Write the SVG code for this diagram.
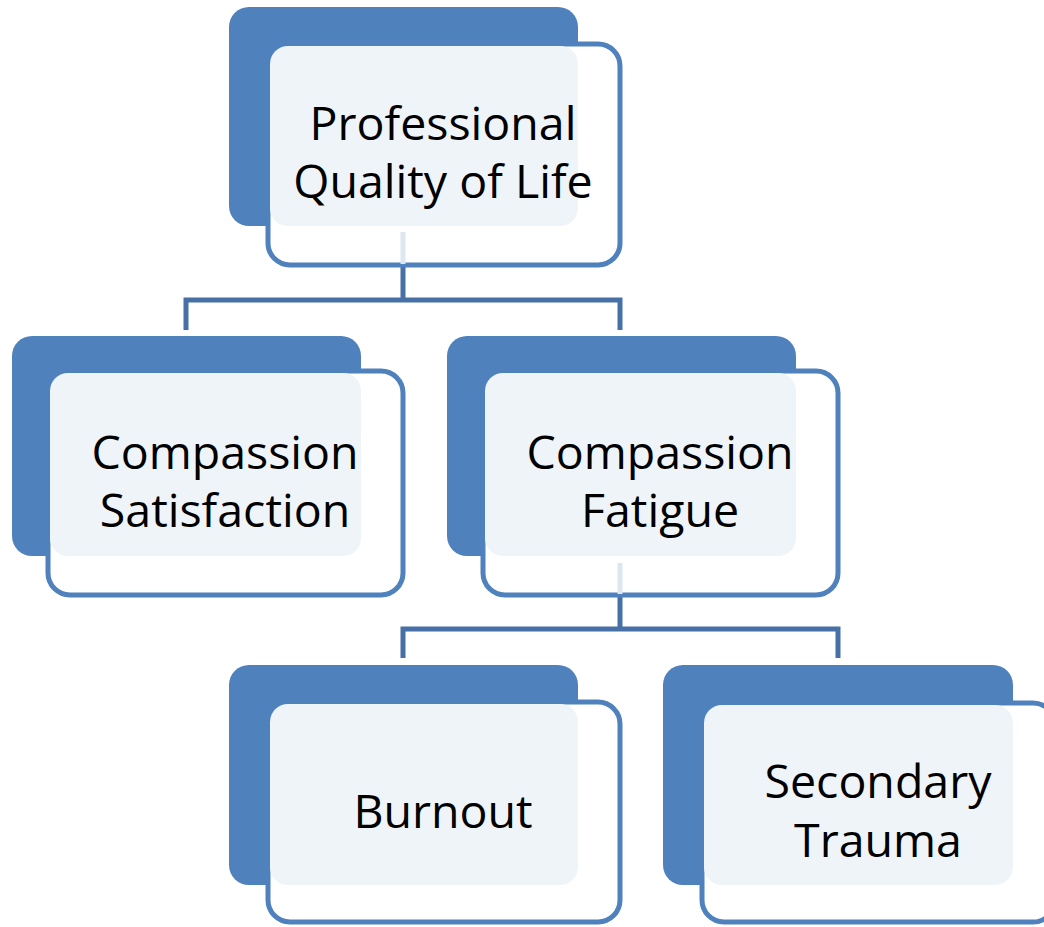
<svg xmlns="http://www.w3.org/2000/svg" width="1044" height="927" viewBox="0 0 1044 927">
<style>
.dark{fill:#4F81BD}
.outline{fill:#FFFFFF;stroke:#4F81BD;stroke-width:5}
.panel{fill:#EFF4F9}
.lbl{font-family:"Open Sans","Noto Sans",sans-serif;font-size:46.5px;fill:#000;text-anchor:middle}
.conn{fill:none;stroke:#4670A6;stroke-width:5}
.connin{fill:none;stroke:#DDE6F1;stroke-width:5}
</style>
<rect x="0" y="0" width="1044" height="927" fill="#FFFFFF"/>
<g id="connectors">
<path class="conn" d="M403,267 V300 M186,330 V300 H620 V330"/>
<path class="conn" d="M620,597 V629 M403,658 V629 H838 V658"/>
</g>
<g id="node-pqol">
<rect class="dark" x="229" y="7" width="349" height="219" rx="20"/>
<rect class="outline" x="268" y="44" width="352" height="221" rx="22"/>
<rect class="panel" x="270" y="46" width="308" height="180" rx="18"/>
<line class="connin" x1="403" y1="232" x2="403" y2="264"/>
<text class="lbl" x="443" y="140">Professional</text>
<text class="lbl" x="443" y="198">Quality of Life</text>
</g>
<g id="node-cs">
<rect class="dark" x="12" y="336" width="349" height="220" rx="20"/>
<rect class="outline" x="48" y="371" width="355" height="224" rx="22"/>
<rect class="panel" x="50" y="373" width="311" height="183" rx="18"/>
<text class="lbl" x="225" y="469">Compassion</text>
<text class="lbl" x="225" y="527">Satisfaction</text>
</g>
<g id="node-cf">
<rect class="dark" x="447" y="336" width="349" height="220" rx="20"/>
<rect class="outline" x="483" y="371" width="355" height="224" rx="22"/>
<rect class="panel" x="485" y="373" width="311" height="183" rx="18"/>
<line class="connin" x1="620" y1="563" x2="620" y2="594"/>
<text class="lbl" x="660" y="469">Compassion</text>
<text class="lbl" x="660" y="527">Fatigue</text>
</g>
<g id="node-burnout">
<rect class="dark" x="229" y="665" width="349" height="220" rx="20"/>
<rect class="outline" x="268" y="702" width="352" height="220" rx="22"/>
<rect class="panel" x="270" y="704" width="308" height="181" rx="18"/>
<text class="lbl" x="443" y="828">Burnout</text>
</g>
<g id="node-st">
<rect class="dark" x="663" y="665" width="350" height="220" rx="20"/>
<rect class="outline" x="702" y="703" width="353" height="219" rx="22"/>
<rect class="panel" x="704" y="705" width="309" height="180" rx="18"/>
<text class="lbl" x="878" y="798">Secondary</text>
<text class="lbl" x="878" y="857">Trauma</text>
</g>
</svg>
